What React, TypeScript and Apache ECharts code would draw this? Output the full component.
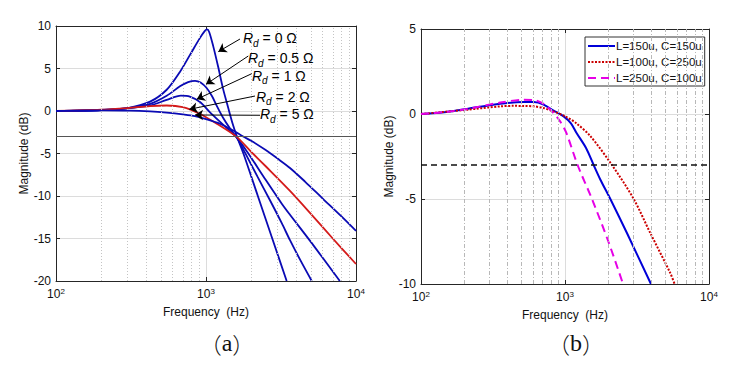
import React, { useEffect, useRef } from "react";
import * as echarts from "echarts";

// ---- Data (a): damping resistor sweep ----
const rd0Freq = [100, 200, 300, 424, 547, 670, 782, 912, 980, 1016, 1050, 1118, 1205, 1300, 1400, 1500, 1600, 1776, 2216, 2765, 3450];
const rd0Mag = [0, 0.12, 0.35, 1.1, 2.5, 4.6, 6.6, 8.6, 9.4, 9.6, 9.3, 7.6, 5.2, 2.6, 0.5, -1.4, -2.9, -5, -10, -15, -20];

const rd05Freq = [100, 200, 300, 424, 547, 670, 760, 845, 920, 1010, 1100, 1180, 1300, 1450, 1600, 1820, 2200, 2670, 3200, 3630, 4300, 5070];
const rd05Mag = [0, 0.12, 0.33, 0.85, 1.8, 2.9, 3.4, 3.55, 3.35, 2.7, 1.7, 0.6, -0.8, -2.1, -3.1, -4.9, -7.7, -10.5, -13.2, -15.2, -17.7, -20];

const rd1Freq = [100, 200, 300, 424, 547, 680, 780, 912, 1063, 1300, 1600, 1915, 2500, 3200, 3630, 5000, 7800];
const rd1Mag = [0, 0.12, 0.32, 0.65, 1.3, 1.8, 1.7, 1.05, -0.15, -1.6, -3.1, -5, -8.1, -10.9, -12.2, -15.4, -20];

const rd2Freq = [100, 200, 300, 424, 547, 700, 912, 1180, 1600, 2000, 2500, 3630, 5000, 7000, 10000];
const rd2Mag = [0, 0.15, 0.35, 0.58, 0.65, 0.45, -0.35, -1.5, -3.05, -4.8, -6.5, -9.4, -12.1, -15, -18];

const rd5Freq = [100, 200, 311, 424, 547, 700, 845, 1000, 1240, 1518, 1770, 2000, 2500, 3000, 3630, 4570, 6000, 8000, 10000];
const rd5Mag = [0, 0.08, 0.05, -0.05, -0.2, -0.4, -0.6, -0.95, -1.5, -2.3, -3, -3.5, -4.6, -5.6, -6.7, -8.3, -10.3, -12.4, -14.1];

// ---- Data (b): L/C sweep ----
const lc1Freq = [100, 150, 209, 355, 516, 608, 710, 833, 978, 1100, 1200, 1400, 1581, 1758, 2065, 2692, 3954];
const lc1Mag = [0, 0.12, 0.3, 0.6, 0.7, 0.7, 0.55, 0.2, -0.14, -0.55, -1.1, -2.0, -3, -3.85, -5, -7, -10];

const lc2Freq = [100, 209, 355, 440, 516, 608, 710, 833, 1005, 1200, 1500, 2119, 3000, 3910, 5380, 5770];
const lc2Mag = [0, 0.25, 0.45, 0.48, 0.47, 0.45, 0.35, 0.15, -0.14, -0.55, -1.3, -3, -5, -7, -9.35, -10];

const lc3Freq = [100, 150, 209, 355, 516, 608, 710, 833, 920, 1020, 1223, 1539, 2000, 2530];
const lc3Mag = [0, 0.12, 0.3, 0.67, 0.84, 0.82, 0.6, 0.05, -0.4, -1.1, -3, -5, -7.5, -10];

const leftNames = ["Rd = 0 Ω", "Rd = 0.5 Ω", "Rd = 1 Ω", "Rd = 2 Ω", "Rd = 5 Ω"];
const leftLabelValues = ["0", "0.5", "1", "2", "5"];
const rightNames = ["L=150u, C=150u", "L=100u, C=250u", "L=250u, C=100u"];

const minorFreqs = [200, 300, 400, 500, 600, 700, 800, 900, 2000, 3000, 4000, 5000, 6000, 7000, 8000, 9000];
const cutoffDb = -3;

// annotation arrows (data coordinates)
const arrowStartFreq = [1685, 1914, 2018, 2121, 2291];
const arrowStartDb = [8.47, 6.47, 4.39, 1.76, -0.5];
const arrowEndFreq = [1208, 1000, 867, 774, 845];
const arrowEndDb = [6.98, 3.14, 1.38, 0.2, -0.47];

const zip = (a: number[], b: number[]) => a.map((v, i) => [v, b[i]]);

const FONT = "Liberation Sans, Arial, sans-serif";
const AXIS_COLOR = "#262626";

function logAxis(gridIndex: number, bottom: boolean, splitColor: string) {
  return {
    type: "log",
    logBase: 10,
    gridIndex,
    min: 100,
    max: 10000,
    position: bottom ? "bottom" : "top",
    name: bottom ? "Frequency  (Hz)" : "",
    nameLocation: "middle",
    nameGap: 17,
    nameTextStyle: { fontFamily: FONT, fontSize: 12, color: "#111" },
    axisLine: { show: true, onZero: false, lineStyle: { color: AXIS_COLOR, width: 1 } },
    axisTick: { show: true, inside: true, length: 4, lineStyle: { color: AXIS_COLOR } },
    axisLabel: bottom
      ? {
          show: true,
          margin: 6,
          fontFamily: FONT,
          fontSize: 12,
          color: "#111",
          formatter: (v: number) => "10{sup|" + Math.round(Math.log10(v)) + "}",
          rich: { sup: { fontSize: 8, verticalAlign: "top", lineHeight: 14, fontFamily: FONT, color: "#111" } },
          lineHeight: 14,
        }
      : { show: false },
    splitLine: bottom ? { show: true, lineStyle: { color: splitColor, width: 1 } } : { show: false },
  };
}

function valAxis(gridIndex: number, left: boolean, min: number, max: number, gap: number) {
  return {
    type: "value",
    gridIndex,
    min,
    max,
    interval: 5,
    position: left ? "left" : "right",
    name: left ? "Magnitude (dB)" : "",
    nameLocation: "middle",
    nameRotate: 90,
    nameGap: gap,
    nameTextStyle: { fontFamily: FONT, fontSize: 12, color: "#111" },
    axisLine: { show: true, onZero: false, lineStyle: { color: AXIS_COLOR, width: 1 } },
    axisTick: { show: true, inside: true, length: 4, lineStyle: { color: AXIS_COLOR } },
    axisLabel: left ? { show: true, margin: 5, fontFamily: FONT, fontSize: 12, color: "#111" } : { show: false },
    splitLine: left ? { show: true, lineStyle: { color: "#dcdcdc", width: 1 } } : { show: false },
  };
}

const richRd = {
  r: { fontStyle: "italic", fontSize: 14, fontFamily: FONT, lineHeight: 20, verticalAlign: "middle", fill: "#000" },
  d: { fontStyle: "italic", fontSize: 10, fontFamily: FONT, lineHeight: 20, verticalAlign: "bottom", fill: "#000" },
  n: { fontSize: 14, fontFamily: FONT, lineHeight: 20, verticalAlign: "middle", fill: "#000" },
};
const labelX = [243, 248, 252, 256, 260];
const labelY = [38, 58, 75.5, 96.5, 114];

const captionRich = {
  p: { fontFamily: "Noto Sans CJK SC", fontWeight: 300, fontSize: 22, fill: "#111" },
  t: { fontFamily: "Liberation Serif, DejaVu Serif, serif", fontSize: 24, fill: "#111" },
};

export default function App() {
  const ref = useRef<HTMLDivElement>(null);
  useEffect(() => {
    if (!ref.current) return;
    const chart = echarts.init(ref.current, null, { renderer: "svg" });
    const blue = "#0a0ab4";
    const leftData = [zip(rd0Freq, rd0Mag), zip(rd05Freq, rd05Mag), zip(rd1Freq, rd1Mag), zip(rd2Freq, rd2Mag), zip(rd5Freq, rd5Mag)];
    const leftColors = [blue, blue, blue, "#d41a1a", blue];

    const arrowMarkLine = {
      silent: true,
      symbol: ["none", "arrow"],
      symbolSize: 8,
      label: { show: false },
      animation: false,
      lineStyle: { color: "#000", width: 1, type: "solid" },
      emphasis: { disabled: true },
      data: arrowStartFreq.map((f, i) => [
        { coord: [f, arrowStartDb[i]] },
        { coord: [arrowEndFreq[i], arrowEndDb[i]] },
      ]),
    };

    const option: any = {
      animation: false,
      backgroundColor: "#fff",
      grid: [
        { left: 56, top: 26, width: 300, height: 255 },
        { left: 421, top: 29, width: 288, height: 255 },
      ],
      xAxis: [logAxis(0, true, "#dcdcdc"), logAxis(0, false, ""), logAxis(1, true, "#dcdcdc"), logAxis(1, false, "")],
      yAxis: [valAxis(0, true, -20, 10, 21), valAxis(0, false, -20, 10, 21), valAxis(1, true, -10, 5, 24), valAxis(1, false, -10, 5, 24)],
      legend: {
        data: rightNames,
        orient: "vertical",
        left: 585,
        top: 37,
        itemWidth: 27,
        itemHeight: 10,
        itemGap: 4,
        padding: [3, 3, 2, 2],
        borderColor: "#333",
        borderWidth: 1,
        borderRadius: 0,
        backgroundColor: "#fff",
        itemStyle: { opacity: 0 },
        textStyle: { fontFamily: FONT, fontSize: 11.5, color: "#111", padding: [0, 0, 0, -4] },
      },
      series: [
        {
          type: "line",
          name: "grid-a",
          xAxisIndex: 0,
          yAxisIndex: 0,
          data: [],
          z: 1,
          silent: true,
          markLine: {
            silent: true,
            symbol: ["none", "none"],
            label: { show: false },
            animation: false,
            lineStyle: { color: "#c4c4c4", width: 1, type: [1, 2] },
            data: [
              ...minorFreqs.map((f) => ({ xAxis: f })),
              { yAxis: cutoffDb, lineStyle: { color: "#555", width: 1, type: "solid" } },
            ],
          },
        },
        {
          type: "line",
          name: "grid-b",
          xAxisIndex: 2,
          yAxisIndex: 2,
          data: [],
          z: 1,
          silent: true,
          markLine: {
            silent: true,
            symbol: ["none", "none"],
            label: { show: false },
            animation: false,
            lineStyle: { color: "#b8b8b8", width: 1, type: [4, 2, 1, 2] },
            data: [
              ...minorFreqs.map((f) => ({ xAxis: f })),
              { yAxis: cutoffDb, lineStyle: { color: "#111", width: 1.5, type: [6, 4] } },
            ],
          },
        },
        ...leftData.map((d, i) => ({
          type: "line",
          name: leftNames[i],
          xAxisIndex: 0,
          yAxisIndex: 0,
          data: d,
          showSymbol: false,
          symbol: "none",
          smooth: 0.3,
          clip: true,
          z: 3,
          lineStyle: { color: leftColors[i], width: 1.8 },
          itemStyle: { color: leftColors[i] },
          markLine: i === 4 ? arrowMarkLine : undefined,
        })),
        {
          type: "line",
          name: rightNames[0],
          xAxisIndex: 2,
          yAxisIndex: 2,
          data: zip(lc1Freq, lc1Mag),
          showSymbol: false,
          symbol: "none",
          smooth: 0.3,
          z: 3,
          lineStyle: { color: "#0000d8", width: 2, type: "solid" },
          itemStyle: { color: "#0000d8" },
        },
        {
          type: "line",
          name: rightNames[1],
          xAxisIndex: 2,
          yAxisIndex: 2,
          data: zip(lc2Freq, lc2Mag),
          showSymbol: false,
          symbol: "none",
          smooth: 0.3,
          z: 3,
          lineStyle: { color: "#cc0000", width: 2, type: [2, 1.5] },
          itemStyle: { color: "#cc0000" },
        },
        {
          type: "line",
          name: rightNames[2],
          xAxisIndex: 2,
          yAxisIndex: 2,
          data: zip(lc3Freq, lc3Mag),
          showSymbol: false,
          symbol: "none",
          smooth: 0.3,
          z: 3,
          lineStyle: { color: "#e600e6", width: 2, type: [8, 5] },
          itemStyle: { color: "#e600e6" },
        },
      ],
      graphic: [
        ...leftLabelValues.map((v, i) => ({
          type: "text",
          x: labelX[i],
          y: labelY[i],
          z: 10,
          style: {
            text: "{r|R}{d|d}{n| = " + v + " Ω}",
            rich: richRd,
            verticalAlign: "middle",
            align: "left",
          },
        })),
        {
          type: "text",
          x: 227,
          y: 343,
          style: { text: "{p|（}{t|a}{p|）}", align: "center", verticalAlign: "middle", rich: captionRich },
        },
        {
          type: "text",
          x: 576,
          y: 343,
          style: { text: "{p|（}{t|b}{p|）}", align: "center", verticalAlign: "middle", rich: captionRich },
        },
      ],
    };
    chart.setOption(option);
    return () => chart.dispose();
  }, []);
  return <div ref={ref} style={{ position: "fixed", left: 0, top: 0, width: 738, height: 365 }} />;
}
